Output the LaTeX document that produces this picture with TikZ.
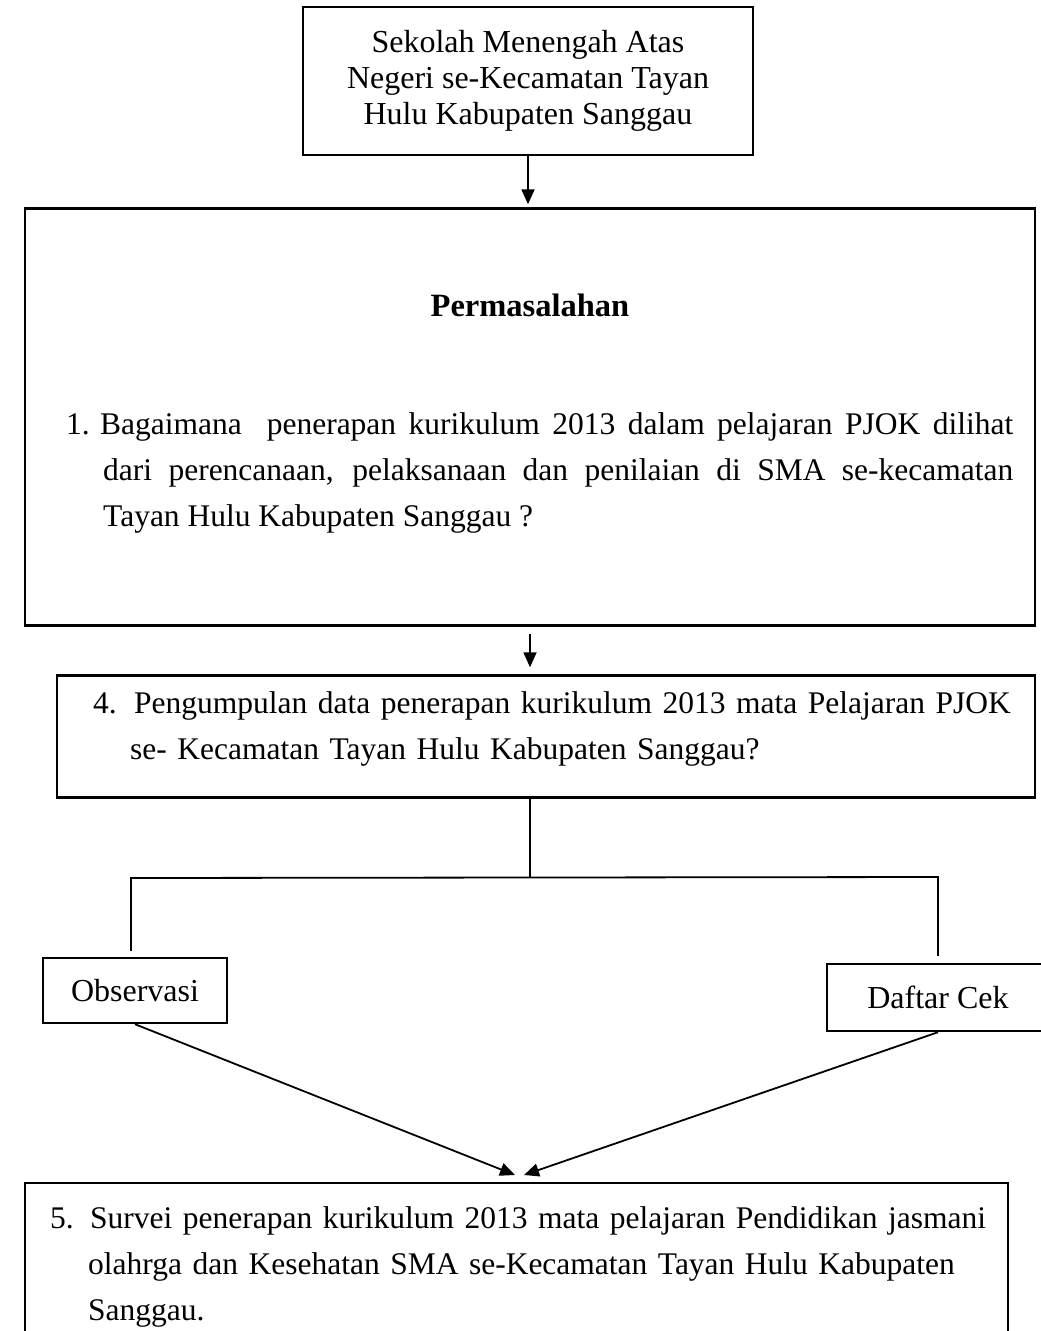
\documentclass[tikz,border=0pt]{standalone}
\usepackage{fontspec}
\setmainfont{Liberation Serif}
\usetikzlibrary{arrows.meta,positioning}
\tikzset{
  box/.style={rectangle,draw,line width=2.4pt,inner sep=0pt,align=center,
    font=\fontsize{32}{36}\selectfont},
  teks/.style={inner sep=0pt,anchor=north west,
    font=\fontsize{31.5}{46}\selectfont},
  arr/.style={-{Triangle[length=15pt,width=13pt]},line width=1.8pt},
  garis/.style={line width=1.8pt}
}
\begin{document}
\begin{tikzpicture}[x=1pt,y=-1pt]
  \useasboundingbox (0,0) rectangle (1041,1331);
  \clip (0,0) rectangle (1041,1331);
  % kotak atas dan permasalahan
  \node[box,minimum width=450pt,minimum height=148pt] (sekolah) at (528,81)
    {Sekolah Menengah Atas\\Negeri se-Kecamatan Tayan\\Hulu Kabupaten Sanggau};
  \node[box,minimum width=1010pt,minimum height=417pt] (masalah) at (530,417) {};
  \node[font=\fontsize{32.5}{36}\selectfont\bfseries] (judul) at (530,305) {Permasalahan};
  \node[teks,text width=947pt,align=justify] (soal) at (66,412)
    {\hangindent=37pt\hangafter=1\makebox[34pt][l]{1.}Bagaimana\ \ penerapan kurikulum 2013 dalam pelajaran PJOK dilihat\linebreak
     dari perencanaan, pelaksanaan dan penilaian di SMA se-kecamatan\linebreak
     Tayan Hulu Kabupaten Sanggau ?\par};
  % pengumpulan data
  \node[box,minimum width=978pt,minimum height=122pt] (kumpul) at (546,736.5) {};
  \node[teks,text width=940pt,align=left] (langkah) at (93,691)
    {\hangindent=37pt\hangafter=1\makebox[41pt][l]{4.}Pengumpulan data penerapan kurikulum 2013 mata Pelajaran PJOK\newline
     se- Kecamatan Tayan Hulu Kabupaten Sanggau?\par};
  % instrumen
  \node[box,minimum width=184pt,minimum height=65pt] (obs) at (135,990.5) {Observasi};
  \node[box,minimum width=222pt,minimum height=67pt] (cek) at (938,997.5) {Daftar Cek};
  % survei
  \node[box,minimum width=983pt,minimum height=162pt] (survei) at (516.5,1264) {};
  \node[teks,text width=950pt,align=left] (hasil) at (50,1206)
    {\hangindent=38pt\hangafter=1\makebox[40pt][l]{5.}Survei penerapan kurikulum 2013 mata pelajaran Pendidikan jasmani\newline
     olahrga dan Kesehatan SMA se-Kecamatan Tayan Hulu Kabupaten\newline
     Sanggau.\par};
  % penghubung
  \draw[arr,shorten >=3pt] (sekolah.south) -- (sekolah.south |- masalah.north);
  \draw[arr,shorten <=7pt,shorten >=7pt] (masalah.south) -- (masalah.south |- kumpul.north);
  \coordinate (cabang) at (530,878);
  \coordinate (kiri) at (131,878);
  \coordinate (kanan) at (938,877);
  \draw[garis] (cabang |- kumpul.south) -- (cabang);
  \draw[garis] ([yshift=6pt]kiri |- obs.north) -- (kiri) -- (kanan) -- ([yshift=7pt]kanan |- cek.north);
  \coordinate (masuk) at (520,1175);
  \draw[arr] (obs.south) -- ([xshift=-5pt]masuk);
  \draw[arr] (cek.south) -- ([xshift=4pt]masuk);
\end{tikzpicture}
\end{document}
